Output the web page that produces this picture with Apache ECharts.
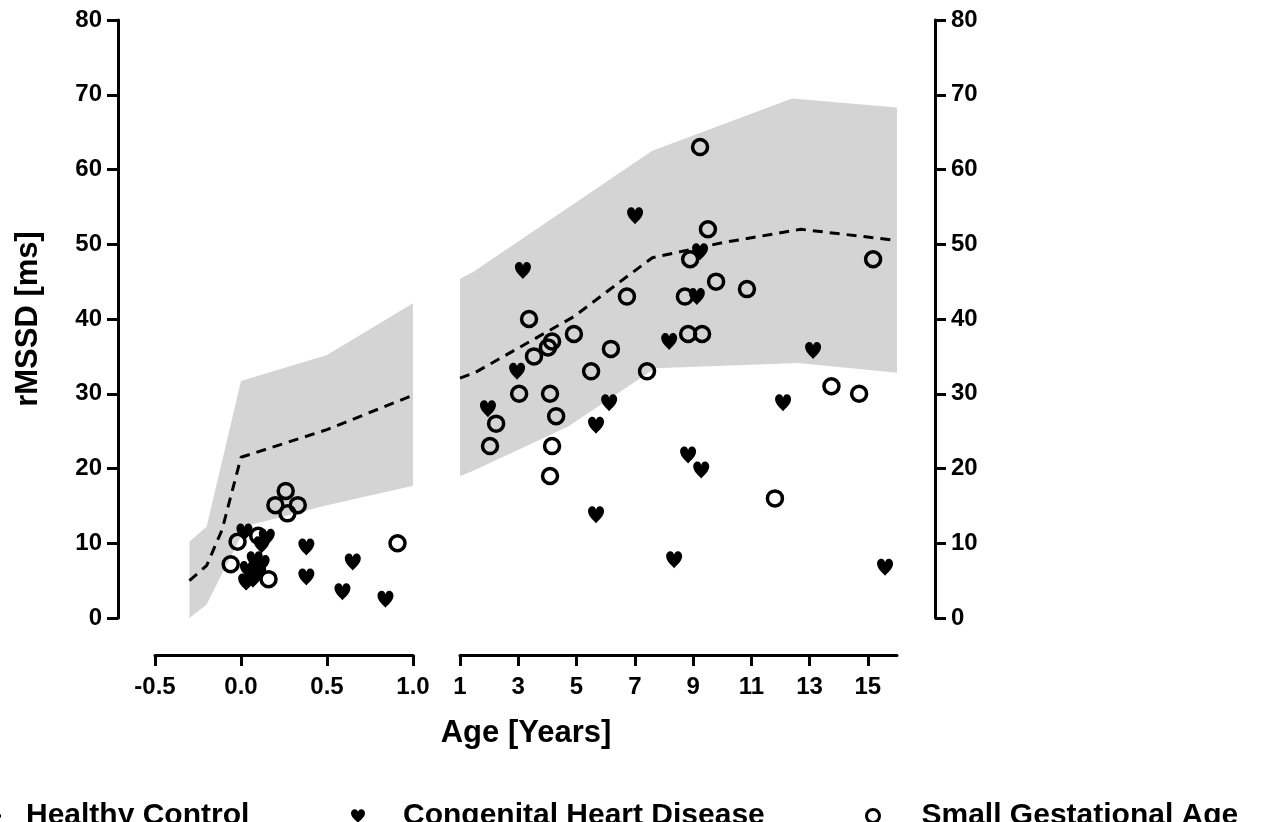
<!DOCTYPE html>
<html><head><meta charset="utf-8">
<script src="https://cdn.jsdelivr.net/npm/echarts@6/dist/echarts.min.js"></script>
<style>html,body{margin:0;padding:0;background:#fff}#c{width:1264px;height:822px}</style>
</head><body><div id="c"></div>
<script>
// ---- data ----
const yTicks = [0, 10, 20, 30, 40, 50, 60, 70, 80];
const xTicksLeft = [-0.5, 0.0, 0.5, 1.0];
const xTicksRight = [1, 3, 5, 7, 9, 11, 13, 15];

// Healthy control reference band (upper/lower) and mean (dashed)
const bandLeftUpper = [[-0.3,10.2],[-0.2,12.2],[0,31.7],[0.5,35.2],[1,42.1]];
const bandLeftLower = [[-0.3,0],[-0.2,1.8],[0.03,12.3],[0.5,15.1],[1,17.7]];
const meanLeft = [[-0.3,5.0],[-0.2,7.0],[-0.11,11.8],[0,21.5],[0.5,25.2],[1,29.8]];
const bandRightUpper = [[1,45.4],[1.45,46.3],[7.6,62.5],[12.4,69.5],[16,68.3]];
const bandRightLower = [[1,19.0],[1.4,19.6],[4.7,25.6],[7.7,33.4],[12.6,34.1],[16,32.8]];
const meanRight = [[1,32.1],[1.5,32.8],[4.9,40.3],[6.5,45.0],[7.6,48.2],[10,50.2],[12.7,52.0],[16,50.5]];

// Congenital Heart Disease
const chdLeft = [[0.38,9.5],[0.38,5.5],[0.65,7.5],[0.59,3.5],[0.84,2.5],[0.02,11.5],[0.15,10.8],[0.12,9.8],
                 [0.08,7.8],[0.04,6.5],[0.10,6.0],[0.03,4.8],[0.07,5.2],[0.12,7.3]];
const chdRight = [[3.16,46.5],[7.01,53.8],[9.24,49.0],[9.13,43.0],[8.18,37.0],[2.96,33.0],[1.96,28.0],[6.12,28.8],
                  [5.67,25.8],[8.83,21.8],[9.28,19.8],[12.09,28.8],[13.12,35.8],[5.67,13.8],[8.35,7.8],[15.59,6.8]];
// Small Gestational Age
const sgaLeft = [[0.26,17.0],[0.20,15.1],[0.33,15.1],[0.27,14.0],[-0.02,10.2],[-0.06,7.2],[0.16,5.2],[0.91,10.0],[0.10,11.0]];
const sgaRight = [[3.37,40],[4.16,37],[4.02,36.2],[3.54,35],[4.91,38],[6.18,36],[6.73,43],[5.5,33],[7.42,33],
                  [3.03,30],[4.09,30],[4.30,27],[2.24,26],[2.03,23],[4.16,23],[4.09,19],[9.24,63],[9.51,52],
                  [8.90,48],[15.18,48],[9.79,45],[10.85,44],[8.72,43],[8.83,38],[9.31,38],[13.75,31],[14.7,30],[11.81,16]];

// ---- styling ----
const F = 'Liberation Sans, Arial, Helvetica, sans-serif';
const HEART = 'path://M50,92 C36,76 4,56 4,30 C4,12 17,4 28,4 C40,4 48,13 50,22 C52,13 60,4 72,4 C83,4 96,12 96,30 C96,56 64,76 50,92 Z';

function bandRender(upper, lower) {
  return function (params, api) {
    const pts = upper.concat(lower.slice().reverse()).map(p => api.coord(p));
    return { type: 'polygon', shape: { points: pts }, style: { fill: '#d4d4d4' }, silent: true };
  };
}

const axisLineStyle = { show: true, onZero: false, lineStyle: { color: '#000', width: 3 } };
const tickStyle = { show: true, length: 11, lineStyle: { color: '#000', width: 3 } };
const labelStyle = { color: '#000', fontSize: 24, fontWeight: 'bold', fontFamily: F };

const chart = echarts.init(document.getElementById('c'), null, { renderer: 'canvas' });
chart.setOption({
  backgroundColor: '#fff',
  animation: false,
  grid: [
    { left: 155, width: 258, top: 20, height: 598 },
    { left: 460, width: 437, top: 20, height: 598 }
  ],
  xAxis: [
    { type: 'value', gridIndex: 0, min: -0.5, max: 1.0, interval: 0.5, position: 'bottom', offset: 37,
      axisLine: axisLineStyle, axisTick: tickStyle, splitLine: { show: false },
      axisLabel: Object.assign({ margin: 20, formatter: v => v.toFixed(1) }, labelStyle) },
    { type: 'value', gridIndex: 1, min: 1, max: 16, interval: 2, position: 'bottom', offset: 37,
      axisLine: axisLineStyle, axisTick: Object.assign({ customValues: xTicksRight }, tickStyle), splitLine: { show: false },
      axisLabel: Object.assign({ margin: 20, customValues: xTicksRight }, labelStyle) }
  ],
  yAxis: [
    { type: 'value', gridIndex: 0, min: 0, max: 80, interval: 10, position: 'left', offset: 37,
      axisLine: axisLineStyle, axisTick: tickStyle, splitLine: { show: false },
      axisLabel: Object.assign({ margin: 16 }, labelStyle),
      name: 'rMSSD [ms]', nameLocation: 'middle', nameGap: 74,
      nameTextStyle: { color: '#000', fontSize: 31, fontWeight: 'bold', fontFamily: F } },
    { type: 'value', gridIndex: 1, min: 0, max: 80, interval: 10, position: 'right', offset: 38,
      axisLine: axisLineStyle, axisTick: tickStyle, splitLine: { show: false },
      axisLabel: Object.assign({ margin: 16 }, labelStyle) }
  ],
  graphic: [
    { type: 'text', x: 526, y: 733, silent: true,
      style: { text: 'Age [Years]', fill: '#000', fontSize: 31, fontWeight: 'bold', fontFamily: F,
               align: 'center', verticalAlign: 'middle' } }
  ],
  legend: [
    { data: [{ name: 'Healthy Control', icon: 'rect' }], left: -14, top: 796, itemWidth: 10, itemHeight: 3,
      selectedMode: false, itemStyle: { color: '#000' },
      textStyle: { color: '#000', fontSize: 30, fontWeight: 'bold', fontFamily: F, padding: [0, 0, 0, 20] } },
    { data: [{ name: 'Congenital Heart Disease', icon: HEART }], left: 346, top: 796, itemWidth: 14, itemHeight: 15,
      selectedMode: false, itemStyle: { color: '#000' },
      textStyle: { color: '#000', fontSize: 30, fontWeight: 'bold', fontFamily: F, padding: [0, 0, 0, 33] } },
    { data: [{ name: 'Small Gestational Age', icon: 'circle' }], left: 860, top: 796, itemWidth: 13, itemHeight: 13,
      selectedMode: false, itemStyle: { color: 'rgba(0,0,0,0)', borderColor: '#000', borderWidth: 3 },
      textStyle: { color: '#000', fontSize: 30, fontWeight: 'bold', fontFamily: F, padding: [0, 0, 0, 37] } }
  ],
  series: [
    { type: 'custom', name: 'bandL', xAxisIndex: 0, yAxisIndex: 0, z: 1, data: [bandLeftUpper[0]],
      renderItem: bandRender(bandLeftUpper, bandLeftLower) },
    { type: 'custom', name: 'bandR', xAxisIndex: 1, yAxisIndex: 1, z: 1, data: [bandRightUpper[0]],
      renderItem: bandRender(bandRightUpper, bandRightLower) },
    { type: 'line', name: 'Healthy Control', xAxisIndex: 0, yAxisIndex: 0, z: 2, data: meanLeft, symbol: 'none',
      itemStyle: { color: '#000' }, lineStyle: { color: '#000', width: 3, type: [10, 7] } },
    { type: 'line', name: 'Healthy Control', xAxisIndex: 1, yAxisIndex: 1, z: 2, data: meanRight, symbol: 'none',
      itemStyle: { color: '#000' }, lineStyle: { color: '#000', width: 3, type: [10, 7] } },
    { type: 'scatter', name: 'Congenital Heart Disease', xAxisIndex: 0, yAxisIndex: 0, z: 3, data: chdLeft,
      symbol: HEART, symbolSize: [16, 17], itemStyle: { color: '#000', opacity: 1 } },
    { type: 'scatter', name: 'Congenital Heart Disease', xAxisIndex: 1, yAxisIndex: 1, z: 3, data: chdRight,
      symbol: HEART, symbolSize: [16, 17], itemStyle: { color: '#000', opacity: 1 } },
    { type: 'scatter', name: 'Small Gestational Age', xAxisIndex: 0, yAxisIndex: 0, z: 3, data: sgaLeft,
      symbol: 'circle', symbolSize: 15, itemStyle: { color: 'rgba(0,0,0,0)', borderColor: '#000', borderWidth: 3.5, opacity: 1 } },
    { type: 'scatter', name: 'Small Gestational Age', xAxisIndex: 1, yAxisIndex: 1, z: 3, data: sgaRight,
      symbol: 'circle', symbolSize: 15, itemStyle: { color: 'rgba(0,0,0,0)', borderColor: '#000', borderWidth: 3.5, opacity: 1 } }
  ]
});
</script></body></html>
